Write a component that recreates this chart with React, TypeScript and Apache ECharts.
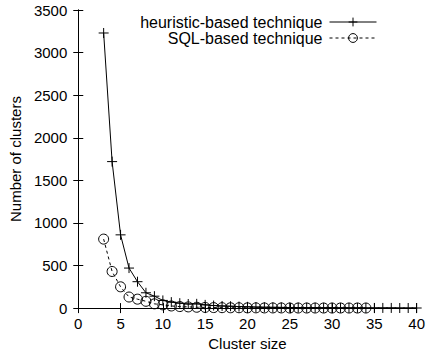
import React, { useEffect, useRef } from "react";
import * as echarts from "echarts";

const heuristicSizes = [3,4,5,6,7,8,9,10,11,12,13,14,15,16,17,18,19,20,21,22,23,24,25,26,27,28,29,30,31,32,33,34,35,36,37,38,39,40];
const heuristicCounts = [3230,1720,860,470,310,180,140,90,70,58,48,50,38,30,25,22,18,15,12,10,9,8,7,6,5,5,4,4,3,3,3,2,2,2,2,1,1,1];
const sqlSizes = [3,4,5,6,7,8,9,10,11,12,13,14,15,16,17,18,19,20,21,22,23,24,25,26,27,28,29,30,31,32,33,34];
const sqlCounts = [810,430,250,130,105,80,50,38,25,18,14,10,8,6,5,4,4,3,3,2,2,2,1,1,1,1,1,1,1,1,1,1];
const xTicks = { min: 0, max: 40, interval: 5 };
const yTicks = { min: 0, max: 3500, interval: 500 };

const FONT = "Liberation Sans";
const PLUS = "path://M0 5 L10 5 M5 0 L5 10";

export default function App() {
  const ref = useRef<HTMLDivElement>(null);
  useEffect(() => {
    const chart = echarts.init(ref.current!, null, { renderer: "svg" });
    const axisLine = { show: true, lineStyle: { color: "#000", width: 1 } };
    const tick = { show: true, inside: true, length: 5, lineStyle: { color: "#000" } };
    const fmt = (v: number) => String(v);
    const txt = { fontFamily: FONT, fontSize: 15, color: "#000" };
    chart.setOption({
      animation: false,
      backgroundColor: "#fff",
      textStyle: { fontFamily: FONT },
      grid: { left: 75, right: 8, top: 10, bottom: 46, containLabel: false },
      legend: {
        orient: "vertical",
        right: 51,
        top: 14,
        padding: 0,
        align: "right",
        itemWidth: 47,
        itemHeight: 11,
        itemGap: 0,
        lineStyle: { width: 1 },
        itemStyle: { borderWidth: 1 },
        textStyle: { fontFamily: FONT, fontSize: 16, lineHeight: 16, color: "#000", padding: [0, 2, 0, 0] },
        data: ["heuristic-based technique", "SQL-based technique"],
      },
      xAxis: [
        {
          type: "value", ...xTicks, position: "bottom",
          name: "Cluster size", nameLocation: "middle", nameGap: 22,
          nameTextStyle: txt,
          axisLine, axisTick: tick, splitLine: { show: false },
          axisLabel: { ...txt, margin: 8, formatter: fmt },
        },
        {
          type: "value", ...xTicks, position: "top",
          axisLine, axisTick: tick, splitLine: { show: false }, axisLabel: { show: false },
        },
      ],
      yAxis: [
        {
          type: "value", ...yTicks, position: "left",
          name: "Number of clusters", nameLocation: "middle", nameGap: 43,
          nameTextStyle: txt,
          axisLine, axisTick: tick, splitLine: { show: false },
          axisLabel: { ...txt, margin: 11, formatter: fmt },
        },
        {
          type: "value", ...yTicks, position: "right",
          axisLine, axisTick: tick, splitLine: { show: false }, axisLabel: { show: false },
        },
      ],
      series: [
        {
          name: "heuristic-based technique",
          type: "line",
          data: heuristicSizes.map((x, i) => [x, heuristicCounts[i]]),
          symbol: PLUS,
          symbolSize: 10,
          showAllSymbol: true,
          lineStyle: { color: "#000", width: 1 },
          itemStyle: { color: "rgba(0,0,0,0)", borderColor: "#000", borderWidth: 1 },
        },
        {
          name: "SQL-based technique",
          type: "line",
          data: sqlSizes.map((x, i) => [x, sqlCounts[i]]),
          symbol: "circle",
          symbolSize: 10,
          showAllSymbol: true,
          lineStyle: { color: "#000", width: 1, type: [3, 3] },
          itemStyle: { color: "rgba(0,0,0,0)", borderColor: "#000", borderWidth: 1 },
        },
      ],
    });
    return () => chart.dispose();
  }, []);
  return (
    <div style={{ position: "fixed", left: 0, top: 0, width: 428, height: 356, overflow: "hidden", background: "#fff" }}>
      <div ref={ref} style={{ width: 428, height: 356 }} />
    </div>
  );
}
